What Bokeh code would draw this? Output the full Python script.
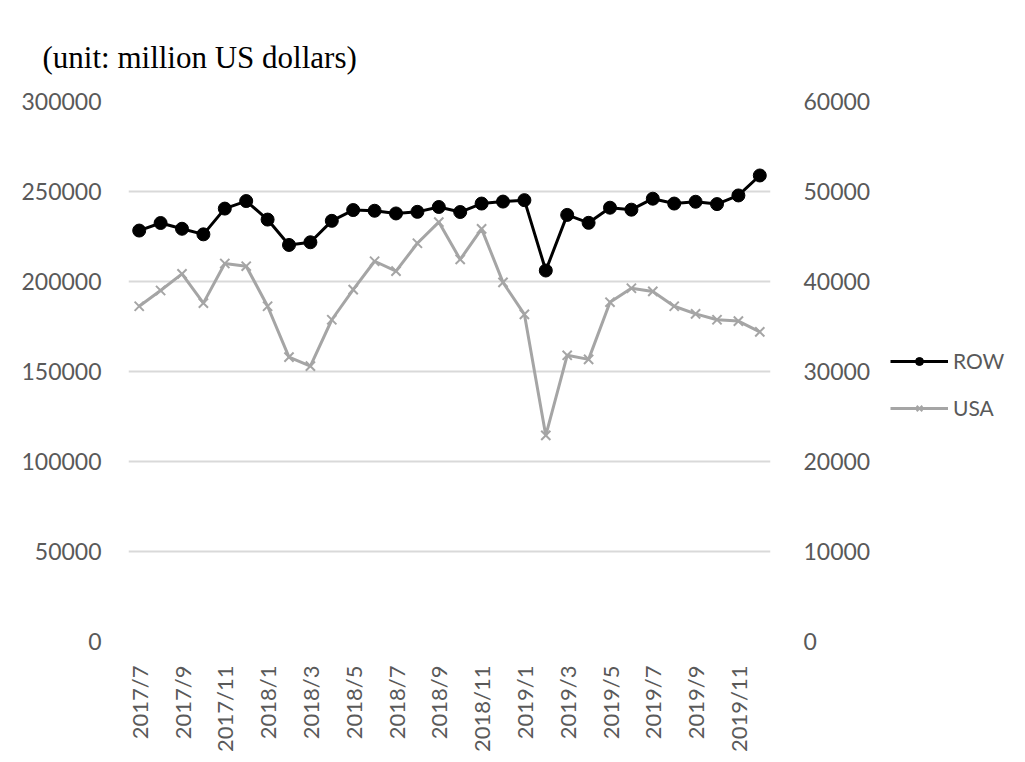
import math
from bokeh.plotting import figure
from bokeh.layouts import row
from bokeh.models import (Range1d, LinearAxis, FixedTicker, Legend, LegendItem,
                          Title, ColumnDataSource, PrintfTickFormatter)
from bokeh.embed import file_html
from bokeh.resources import INLINE

months = ["2017/7", "2017/8", "2017/9", "2017/10", "2017/11", "2017/12",
          "2018/1", "2018/2", "2018/3", "2018/4", "2018/5", "2018/6",
          "2018/7", "2018/8", "2018/9", "2018/10", "2018/11", "2018/12",
          "2019/1", "2019/2", "2019/3", "2019/4", "2019/5", "2019/6",
          "2019/7", "2019/8", "2019/9", "2019/10", "2019/11", "2019/12"]

row_values = [228300, 232500, 229300, 226200, 240500, 244700, 234400, 220300,
              221800, 233700, 239700, 239300, 237800, 238700, 241400, 238600,
              243300, 244400, 245200, 206100, 237000, 232600, 241000, 239900,
              246000, 243300, 244300, 243000, 247800, 258900]

usa_values = [37250, 39000, 40850, 37600, 42000, 41700, 37250, 31600,
              30600, 35750, 39100, 42250, 41150, 44250, 46600, 42450,
              45850, 39900, 36350, 22900, 31800, 31350, 37700, 39250,
              38900, 37250, 36400, 35750, 35600, 34400]

left_ticks = [0, 50000, 100000, 150000, 200000, 250000, 300000]
right_ticks = [0, 10000, 20000, 30000, 40000, 50000, 60000]
series_names = ["ROW", "USA"]

x = list(range(len(months)))
src = ColumnDataSource(dict(x=x, row=row_values, usa=usa_values))

TICK_FONT = "Lato"
TICK_COLOR = "#595959"
ROW_COLOR = "black"
USA_COLOR = "#a5a5a5"

p = figure(frame_width=642, frame_height=540, output_backend="svg",
           toolbar_location=None,
           x_range=Range1d(-0.5, len(months) - 0.5),
           y_range=Range1d(0, 300000),
           min_border_left=128, min_border_right=0,
           min_border_top=101, min_border_bottom=109)
p.outline_line_color = None
p.background_fill_color = "white"
p.border_fill_color = "white"

p.extra_y_ranges = {"usa": Range1d(0, 60000)}

# grid
p.xgrid.grid_line_color = None
p.ygrid.grid_line_color = "#d9d9d9"
p.ygrid.grid_line_width = 2

# x axis
xa = p.xaxis[0]
xa.ticker = FixedTicker(ticks=x[::2])
xa.major_label_overrides = {i: months[i] for i in x}
xa.major_label_orientation = math.pi / 2
xa.axis_line_color = None
xa.major_tick_line_color = None
xa.minor_tick_line_color = None
xa.major_label_text_font = TICK_FONT
xa.major_label_text_font_size = "22px"
xa.major_label_text_color = TICK_COLOR
xa.major_label_standoff = 18

# left axis
ya = p.yaxis[0]
ya.ticker = FixedTicker(ticks=left_ticks)
ya.formatter = PrintfTickFormatter(format="%d")
ya.axis_line_color = None
ya.major_tick_line_color = None
ya.minor_tick_line_color = None
ya.major_label_text_font = TICK_FONT
ya.major_label_text_font_size = "23px"
ya.major_label_text_color = TICK_COLOR
ya.major_label_standoff = 21
p.ygrid.ticker = FixedTicker(ticks=left_ticks)

# right axis
ra = LinearAxis(y_range_name="usa", ticker=FixedTicker(ticks=right_ticks),
                formatter=PrintfTickFormatter(format="%d"))
ra.axis_line_color = None
ra.major_tick_line_color = None
ra.minor_tick_line_color = None
ra.major_label_text_font = TICK_FONT
ra.major_label_text_font_size = "23px"
ra.major_label_text_color = TICK_COLOR
ra.major_label_standoff = 27
p.add_layout(ra, "right")

# series
p.line("x", "row", source=src, line_color=ROW_COLOR, line_width=3)
p.scatter("x", "row", source=src, marker="circle", size=13,
          fill_color=ROW_COLOR, line_color=ROW_COLOR)
p.line("x", "usa", source=src, y_range_name="usa",
       line_color=USA_COLOR, line_width=3)
p.scatter("x", "usa", source=src, y_range_name="usa", marker="x",
          size=13, line_color=USA_COLOR, line_width=2)

title = Title(text="(unit: million US dollars)", align="left",
              text_font="Liberation Serif", text_font_size="31px",
              text_font_style="normal", text_color="black", offset=-86,
              standoff=53)
p.add_layout(title, "above")

# legend panel (separate figure placed to the right of the chart);
# its renderers reuse the series data but lie outside its (0..1) view
lp = figure(width=150, height=750, output_backend="svg", toolbar_location=None,
            x_range=Range1d(0, 1), y_range=Range1d(0, 1),
            x_axis_location=None, y_axis_location=None,
            min_border=0)
lp.outline_line_color = None
lp.grid.visible = False
l_row_line = lp.line("x", "row", source=src, line_color=ROW_COLOR, line_width=3)
l_row_pts = lp.scatter("x", "row", source=src, marker="circle", size=13,
                       fill_color=ROW_COLOR, line_color=ROW_COLOR)
l_usa_line = lp.line("x", "usa", source=src, line_color=USA_COLOR, line_width=3)
l_usa_pts = lp.scatter("x", "usa", source=src, marker="x", size=13,
                       line_color=USA_COLOR, line_width=2)

legend = Legend(items=[LegendItem(label=series_names[0], renderers=[l_row_line, l_row_pts]),
                       LegendItem(label=series_names[1], renderers=[l_usa_line, l_usa_pts])],
                location=(17, 216), border_line_color=None,
                background_fill_alpha=0,
                label_text_font=TICK_FONT, label_text_font_size="21px",
                label_text_color=TICK_COLOR, glyph_width=58, spacing=22,
                margin=0, padding=0, label_standoff=5)
lp.add_layout(legend)

layout = row(p, lp)
open("out.html", "w").write(file_html(layout, INLINE))
